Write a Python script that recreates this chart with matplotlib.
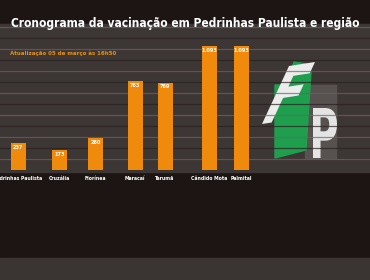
import matplotlib
matplotlib.use('Agg')
import matplotlib.pyplot as plt
from matplotlib.patches import Rectangle, Polygon, PathPatch
from matplotlib.textpath import TextPath
from matplotlib.font_manager import FontProperties
from matplotlib.transforms import Affine2D

# dados
cidades = ['Pedrinhas Paulista', 'Cruzália', 'Florínea', 'Maracaí', 'Tarumã', 'Cândido Mota', 'Palmital']
doses = [237, 173, 280, 783, 769, 1093, 1093]
rotulos = ['237', '173', '280', '783', '769', '1.093', '1.093']
titulo = 'Cronograma da vacinação em Pedrinhas Paulista e região'
atualizacao = 'Atualização 05 de março às 16h50'

# layout (pixels da figura 370x280)
W, H = 370, 280
pos_x = [18, 59.5, 95.5, 135, 165, 209, 241.5]
laranja = '#ef8a0c'

plt.rcParams['font.family'] = ['DejaVu Sans']
plt.rcParams['font.stretch'] = 'condensed'
negrito = FontProperties(family='DejaVu Sans', weight='heavy', stretch='condensed')


def letra(ax, ch, matriz, cor, z):
    # letra do logo desenhada como caminho, encaixada numa caixa unitaria
    tp = TextPath((0, 0), ch, size=1, prop=negrito)
    ext = tp.get_extents()
    norm = Affine2D().translate(-ext.x0, -ext.y0).scale(1 / ext.width, 1 / ext.height)
    tr = norm + Affine2D(matriz)
    ax.add_patch(PathPatch(tr.transform_path(tp), color=cor, lw=0, zorder=z))


fig = plt.figure(figsize=(W / 100, H / 100), dpi=100)
fig.patch.set_facecolor('#1d1513')

# fundo desenhado em pixels
bg = fig.add_axes([0, 0, 1, 1])
bg.set_xlim(0, W)
bg.set_ylim(H, 0)
bg.axis('off')
bg.add_patch(Rectangle((0, 24), W, 148, color='#3c3634', zorder=0))
bg.add_patch(Rectangle((0, 258), W, 22, color='#3a3432', zorder=0))

# logo FP
bg.add_patch(Rectangle((305, 85), 31, 73, color='#57524f', zorder=1))
bg.add_patch(Polygon([(294, 62), (307, 64), (311, 72), (306, 150), (275, 158), (275, 85), (286, 85)],
                     closed=True, color='#1f9e4e', zorder=2))
letra(bg, 'F', [[26, 27, 262], [-4, -58, 124], [0, 0, 1]], '#ececec', 3)
letra(bg, 'P', [[24, 0, 313], [0, -50, 158], [0, 0, 1]], '#e4e4e4', 3)

# linhas horizontais do fundo
for k in range(13):
    y = 27 + 11 * k
    cor = '#6b6462' if k % 2 == 0 else '#27201e'
    bg.plot([0, W], [y, y], color=cor, lw=0.9, alpha=0.7, zorder=4)

# barras
ax = fig.add_axes([0, (H - 172) / H, 1, 148 / H])
ax.patch.set_alpha(0)
escala = 124 / 1093
ax.set_xlim(0, W)
ax.set_ylim(-2 / escala, 146 / escala)
ax.bar(pos_x, doses, width=15, color=laranja, zorder=3)
for x, v, r in zip(pos_x, doses, rotulos):
    ax.text(x, v - 14, r, color='white', fontsize=4, fontweight='bold',
            ha='center', va='top', zorder=4)
ax.set_xticks(pos_x, cidades)
ax.tick_params(axis='x', length=0, pad=3, colors='white', labelsize=3.7)
for t in ax.get_xticklabels():
    t.set_fontweight('bold')
ax.set_yticks([])
for s in ax.spines.values():
    s.set_visible(False)

fig.text(185 / W, 1 - 24 / H, titulo, color='white', fontsize=8.6,
         fontweight='bold', ha='center', va='center')
fig.text(10 / W, 1 - 53 / H, atualizacao, color='#e8900c', fontsize=4.4,
         fontweight='bold', ha='left', va='center')

fig.savefig('out.png', dpi=100, facecolor=fig.get_facecolor())
